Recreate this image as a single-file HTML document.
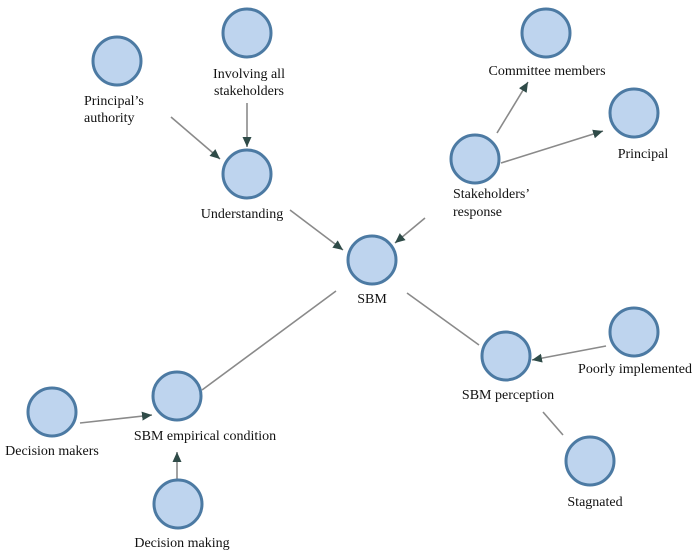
<!DOCTYPE html>
<html>
<head>
<meta charset="utf-8">
<style>
html,body{margin:0;padding:0;background:#fff;}
svg{display:block;}
text{font-family:"Liberation Serif",serif;font-size:14px;fill:#111;}
</style>
</head>
<body>
<svg width="700" height="555" viewBox="0 0 700 555" xmlns="http://www.w3.org/2000/svg">
<defs>
<marker id="ah" markerUnits="userSpaceOnUse" markerWidth="12" markerHeight="10" refX="10" refY="5" orient="auto">
<path d="M0,0.5 L10,5 L0,9.5 Z" fill="#2f4b48"/>
</marker>
</defs>
<g stroke="#8a8a8a" stroke-width="1.6" fill="none">
<line x1="171" y1="117" x2="220" y2="159" marker-end="url(#ah)"/>
<line x1="247" y1="103" x2="247" y2="147" marker-end="url(#ah)"/>
<line x1="290" y1="210" x2="343" y2="250" marker-end="url(#ah)"/>
<line x1="425" y1="218" x2="395" y2="243" marker-end="url(#ah)"/>
<line x1="497" y1="133" x2="528" y2="82" marker-end="url(#ah)"/>
<line x1="501" y1="163" x2="603" y2="131" marker-end="url(#ah)"/>
<line x1="407" y1="293" x2="479" y2="345"/>
<line x1="606" y1="346" x2="532" y2="360" marker-end="url(#ah)"/>
<line x1="543" y1="412" x2="563" y2="435"/>
<line x1="202" y1="390" x2="336" y2="291"/>
<line x1="80" y1="423" x2="152" y2="415" marker-end="url(#ah)"/>
<line x1="177" y1="480" x2="177" y2="452" marker-end="url(#ah)"/>
</g>
<g fill="#bed4ee" stroke="#4c7aa3" stroke-width="3">
<circle cx="117" cy="61" r="24"/>
<circle cx="247" cy="33" r="24"/>
<circle cx="247" cy="174" r="24"/>
<circle cx="372" cy="260" r="24"/>
<circle cx="475" cy="159" r="24"/>
<circle cx="546" cy="33" r="24"/>
<circle cx="634" cy="113" r="24"/>
<circle cx="506" cy="356" r="24"/>
<circle cx="634" cy="332" r="24"/>
<circle cx="590" cy="461" r="24"/>
<circle cx="177" cy="396" r="24"/>
<circle cx="52" cy="412" r="24"/>
<circle cx="178" cy="504" r="24"/>
</g>
<g>
<text x="84" y="105">Principal’s</text>
<text x="84" y="122">authority</text>
<text x="249" y="78" text-anchor="middle">Involving all</text>
<text x="249" y="95" text-anchor="middle">stakeholders</text>
<text x="242" y="218" text-anchor="middle">Understanding</text>
<text x="372" y="303" text-anchor="middle">SBM</text>
<text x="453" y="198">Stakeholders’</text>
<text x="453" y="216">response</text>
<text x="547" y="75" text-anchor="middle">Committee members</text>
<text x="643" y="158" text-anchor="middle">Principal</text>
<text x="635" y="373" text-anchor="middle">Poorly implemented</text>
<text x="508" y="399" text-anchor="middle">SBM perception</text>
<text x="595" y="506" text-anchor="middle">Stagnated</text>
<text x="52" y="455" text-anchor="middle">Decision makers</text>
<text x="205" y="440" text-anchor="middle">SBM empirical condition</text>
<text x="182" y="547" text-anchor="middle">Decision making</text>
</g>
</svg>
</body>
</html>
